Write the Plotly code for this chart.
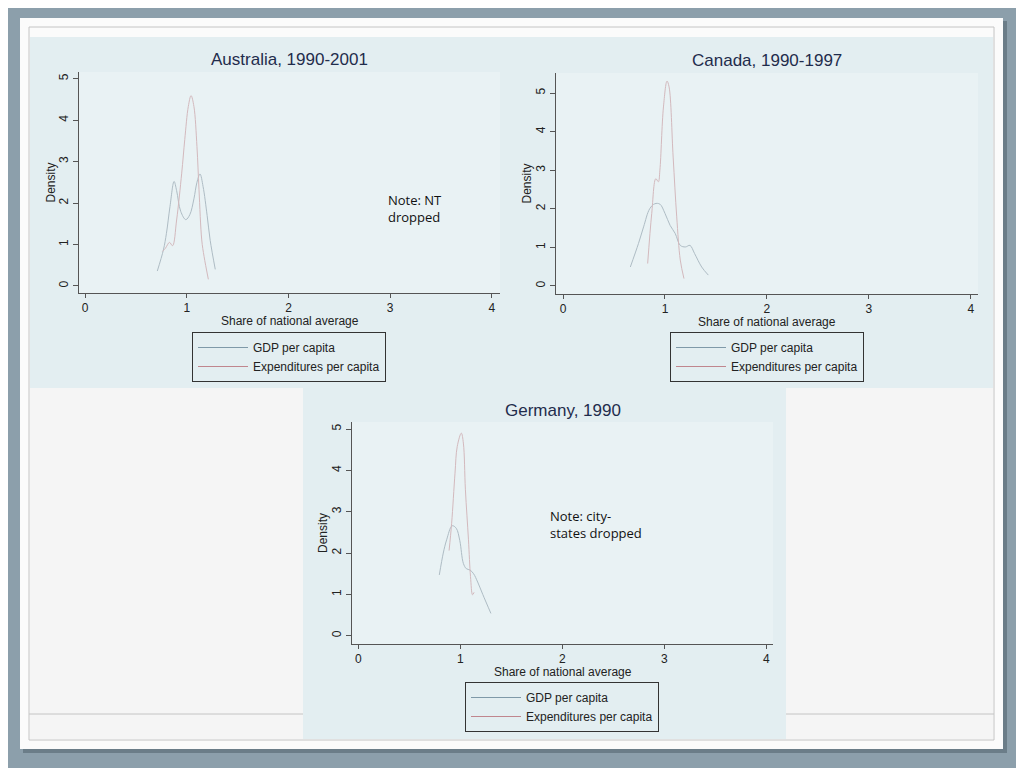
import plotly.graph_objects as go

# kernel density curves (share of national average, density)
au_gdp_x = [0.71, 0.77, 0.80, 0.835, 0.875, 0.90, 0.94, 0.99, 1.03, 1.07, 1.10, 1.13, 1.16, 1.20, 1.23, 1.28]
au_gdp_y = [0.36, 0.87, 1.27, 1.92, 2.52, 2.30, 1.80, 1.60, 1.72, 2.10, 2.50, 2.70, 2.40, 1.70, 1.10, 0.40]
au_exp_x = [0.76, 0.79, 0.83, 0.86, 0.90, 0.95, 0.98, 1.015, 1.042, 1.07, 1.10, 1.12, 1.147, 1.17, 1.212]
au_exp_y = [0.83, 0.91, 1.05, 0.97, 1.59, 2.72, 3.53, 4.33, 4.59, 4.33, 3.36, 2.32, 1.11, 0.71, 0.16]

ca_gdp_x = [0.66, 0.74, 0.79, 0.85, 0.90, 0.95, 1.00, 1.05, 1.10, 1.15, 1.20, 1.245, 1.29, 1.36, 1.425]
ca_gdp_y = [0.49, 1.10, 1.53, 2.00, 2.13, 2.12, 1.88, 1.57, 1.36, 1.05, 1.01, 1.05, 0.84, 0.49, 0.28]
ca_exp_x = [0.83, 0.87, 0.91, 0.935, 0.95, 0.985, 1.02, 1.04, 1.08, 1.115, 1.15, 1.186]
ca_exp_y = [0.58, 1.88, 2.78, 2.70, 3.00, 4.64, 5.31, 5.16, 3.34, 1.79, 0.67, 0.19]

de_gdp_x = [0.794, 0.833, 0.866, 0.92, 0.96, 0.995, 1.03, 1.06, 1.095, 1.13, 1.17, 1.22, 1.30]
de_gdp_y = [1.47, 2.00, 2.32, 2.66, 2.60, 2.30, 1.75, 1.62, 1.59, 1.50, 1.30, 1.00, 0.54]
de_exp_x = [0.89, 0.915, 0.948, 0.97, 1.01, 1.03, 1.05, 1.08, 1.10, 1.12, 1.135]
de_exp_y = [2.06, 2.72, 3.93, 4.58, 4.90, 4.66, 3.53, 2.32, 1.43, 0.99, 1.05]

titles = ["Australia, 1990-2001", "Canada, 1990-1997", "Germany, 1990"]
series_names = ["GDP per capita", "Expenditures per capita"]
x_ticks = [0, 1, 2, 3, 4]
y_ticks = [0, 1, 2, 3, 4, 5]
notes = ["Note: NT<br>dropped", "Note: city-<br>states dropped"]

# the page body adds an 8px margin, so the figure is drawn 8px smaller and
# every pixel position below is taken from the screenshot and shifted back
OFF = 8
W, H = 1024 - OFF, 768 - OFF
gdp_color = "#aebcc4"
exp_color = "#d3b9bd"
gdp_leg = "#7f99a8"
exp_leg = "#c0868e"
panel_color = "#e3eef1"
axis_color = "#555555"


def px(x):
    return (x - OFF) / W


def py(y):
    return 1 - (y - OFF) / H


fig = go.Figure()

panels = [
    (au_gdp_x, au_gdp_y, au_exp_x, au_exp_y, "x", "y", "legend"),
    (ca_gdp_x, ca_gdp_y, ca_exp_x, ca_exp_y, "x2", "y2", "legend2"),
    (de_gdp_x, de_gdp_y, de_exp_x, de_exp_y, "x3", "y3", "legend3"),
]
for gx, gy, ex, ey, xa, ya, lg in panels:
    fig.add_trace(go.Scatter(x=gx, y=gy, mode="lines", name=series_names[0],
                             line=dict(color=gdp_color, width=1, shape="spline"),
                             xaxis=xa, yaxis=ya, showlegend=False))
    fig.add_trace(go.Scatter(x=ex, y=ey, mode="lines", name=series_names[1],
                             line=dict(color=exp_color, width=1, shape="spline"),
                             xaxis=xa, yaxis=ya, showlegend=False))
    # legend-only entries carry the stronger key colours
    fig.add_trace(go.Scatter(x=[None], y=[None], mode="lines", name=series_names[0],
                             line=dict(color=gdp_leg, width=1), xaxis=xa, yaxis=ya, legend=lg))
    fig.add_trace(go.Scatter(x=[None], y=[None], mode="lines", name=series_names[1],
                             line=dict(color=exp_leg, width=1), xaxis=xa, yaxis=ya, legend=lg))

# plot area boxes in screenshot pixels: left, right, top, bottom
boxes = [(79, 500, 72, 293), (556, 978, 73, 294), (352, 773, 422, 644)]
x_ranges = [[-0.06, 4.08], [-0.069, 4.07], [-0.062, 4.066]]
y_ranges = [[-0.17, 5.16], [-0.21, 5.52], [-0.2, 5.17]]

axis_style = dict(showline=True, linecolor=axis_color, linewidth=1, ticks="outside",
                  ticklen=4, tickcolor=axis_color, showgrid=False, zeroline=False,
                  tickfont=dict(family="Liberation Sans", size=12, color="#222222"))

layout_axes = {}
for i, (l, r, t, b) in enumerate(boxes):
    sfx = "" if i == 0 else str(i + 1)
    layout_axes["xaxis" + sfx] = dict(axis_style, domain=[px(l), px(r)], range=x_ranges[i],
                                     tickvals=x_ticks, anchor="y" + sfx, ticklabelstandoff=0)
    layout_axes["yaxis" + sfx] = dict(axis_style, domain=[py(b), py(t)], range=y_ranges[i],
                                     tickvals=y_ticks, tickangle=-90, anchor="x" + sfx,
                                     ticklen=5)
fig.update_layout(**layout_axes)

# slide background pieces
shapes = [
    dict(type="rect", x0=px(23), x1=px(1007), y0=py(753), y1=py(21), fillcolor="#6b7d88", line_width=0),
    dict(type="rect", x0=px(20), x1=px(1003), y0=py(749), y1=py(18), fillcolor="#fbfbfb", line_width=0),
    dict(type="rect", x0=px(29), x1=px(994), y0=py(740), y1=py(27), fillcolor="rgba(0,0,0,0)",
         line=dict(color="#c4c4c4", width=1)),
    dict(type="rect", x0=px(30), x1=px(993), y0=py(388), y1=py(37), fillcolor=panel_color, line_width=0),
    dict(type="rect", x0=px(30), x1=px(303), y0=py(739), y1=py(388), fillcolor="#f5f5f5", line_width=0),
    dict(type="rect", x0=px(786), x1=px(993), y0=py(739), y1=py(388), fillcolor="#f5f5f5", line_width=0),
    dict(type="rect", x0=px(303), x1=px(786), y0=py(739), y1=py(388), fillcolor=panel_color, line_width=0),
    dict(type="line", x0=px(29), x1=px(303), y0=py(714), y1=py(714), line=dict(color="#c4c4c4", width=1)),
    dict(type="line", x0=px(786), x1=px(994), y0=py(714), y1=py(714), line=dict(color="#c4c4c4", width=1)),
]
for l, r, t, b in boxes:
    shapes.append(dict(type="rect", x0=px(l), x1=px(r), y0=py(b), y1=py(t), fillcolor="#e9f2f4",
                       line_width=0))
for s in shapes:
    s["layer"] = "below"
    s["xref"] = "paper"
    s["yref"] = "paper"

annotations = []
for i, (l, r, t, b) in enumerate(boxes):
    cx = px((l + r) / 2)
    annotations.append(dict(text=titles[i], x=cx, y=py(t - 12), xref="paper", yref="paper",
                            showarrow=False, xanchor="center", yanchor="middle",
                            font=dict(family="Liberation Sans", size=17, color="#1f2c4c")))
    annotations.append(dict(text="Share of national average", x=cx, y=py(b + 28), xref="paper",
                            yref="paper", showarrow=False, xanchor="center", yanchor="middle",
                            font=dict(family="Liberation Sans", size=12, color="#222222")))
    annotations.append(dict(text="Density", x=px(l - 29), y=py((t + b) / 2), xref="paper",
                            yref="paper", showarrow=False, textangle=-90, xanchor="center",
                            yanchor="middle",
                            font=dict(family="Liberation Sans", size=12, color="#222222")))

annotations.append(dict(text=notes[0], x=2.96, y=1.88, xref="x", yref="y", showarrow=False,
                        xanchor="left", align="left",
                        font=dict(family="Open Sans", size=13, color="#111111")))
annotations.append(dict(text=notes[1], x=1.86, y=2.7, xref="x3", yref="y3", showarrow=False,
                        xanchor="left", align="left",
                        font=dict(family="Open Sans", size=13, color="#111111")))

legend_style = dict(bgcolor=panel_color, bordercolor="#333333", borderwidth=1,
                    xanchor="left", yanchor="top", tracegroupgap=0, itemwidth=50,
                    font=dict(family="Liberation Sans", size=12, color="#222222"))

fig.update_layout(
    width=W, height=H,
    margin=dict(l=0, r=0, t=0, b=0),
    paper_bgcolor="#8c9fab",
    plot_bgcolor="rgba(0,0,0,0)",
    shapes=shapes,
    annotations=annotations,
    showlegend=True,
    legend=dict(legend_style, x=px(192), y=py(332)),
    legend2=dict(legend_style, x=px(670), y=py(332)),
    legend3=dict(legend_style, x=px(465), y=py(682)),
)

fig.write_html("out.html")
